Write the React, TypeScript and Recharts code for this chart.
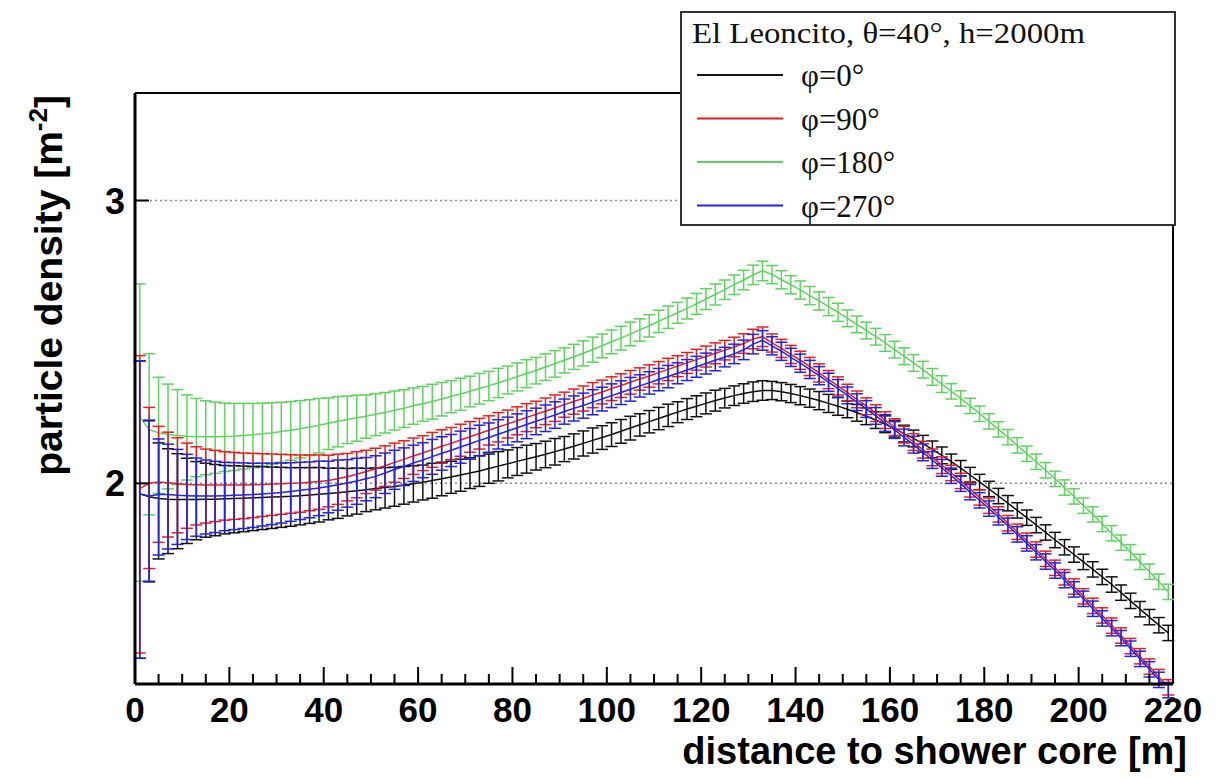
import { LineChart, Line, XAxis, YAxis, ErrorBar, ReferenceLine, Legend, Label } from "recharts";

// distance to shower core [m], bin centres
const distance = [
  1, 3, 5, 7, 9, 11, 13, 15, 17, 19,
  21, 23, 25, 27, 29, 31, 33, 35, 37, 39,
  41, 43, 45, 47, 49, 51, 53, 55, 57, 59,
  61, 63, 65, 67, 69, 71, 73, 75, 77, 79,
  81, 83, 85, 87, 89, 91, 93, 95, 97, 99,
  101, 103, 105, 107, 109, 111, 113, 115, 117, 119,
  121, 123, 125, 127, 129, 131, 133, 135, 137, 139,
  141, 143, 145, 147, 149, 151, 153, 155, 157, 159,
  161, 163, 165, 167, 169, 171, 173, 175, 177, 179,
  181, 183, 185, 187, 189, 191, 193, 195, 197, 199,
  201, 203, 205, 207, 209, 211, 213, 215, 217, 219,
];

const phi0 = [
  1.970, 1.962, 1.957, 1.955, 1.954, 1.954, 1.954, 1.955, 1.955, 1.956,
  1.957, 1.958, 1.959, 1.960, 1.961, 1.962, 1.963, 1.965, 1.967, 1.969,
  1.971, 1.973, 1.976, 1.979, 1.982, 1.985, 1.988, 1.991, 1.995, 1.999,
  2.003, 2.008, 2.013, 2.018, 2.024, 2.030, 2.036, 2.043, 2.050, 2.057,
  2.064, 2.071, 2.078, 2.085, 2.093, 2.101, 2.109, 2.118, 2.127, 2.136,
  2.145, 2.155, 2.165, 2.175, 2.185, 2.195, 2.205, 2.215, 2.225, 2.234,
  2.243, 2.252, 2.260, 2.268, 2.275, 2.281, 2.285, 2.285, 2.281, 2.275,
  2.268, 2.260, 2.252, 2.243, 2.234, 2.224, 2.213, 2.202, 2.190, 2.177,
  2.163, 2.148, 2.133, 2.117, 2.100, 2.082, 2.063, 2.044, 2.024, 2.004,
  1.984, 1.964, 1.944, 1.924, 1.904, 1.884, 1.864, 1.844, 1.825, 1.806,
  1.787, 1.768, 1.749, 1.730, 1.710, 1.690, 1.670, 1.651, 1.632, 1.614,
];

const phi90 = [
  1.985, 2.000, 2.004, 2.002, 1.999, 1.997, 1.996, 1.995, 1.995, 1.995,
  1.995, 1.995, 1.996, 1.997, 1.998, 1.999, 2.000, 2.001, 2.003, 2.005,
  2.008, 2.013, 2.019, 2.026, 2.034, 2.042, 2.051, 2.061, 2.070, 2.080,
  2.089, 2.099, 2.109, 2.118, 2.128, 2.138, 2.148, 2.158, 2.168, 2.178,
  2.188, 2.198, 2.208, 2.218, 2.228, 2.239, 2.249, 2.259, 2.270, 2.280,
  2.291, 2.301, 2.312, 2.323, 2.333, 2.344, 2.355, 2.366, 2.377, 2.388,
  2.399, 2.410, 2.421, 2.432, 2.444, 2.460, 2.468, 2.446, 2.427, 2.406,
  2.386, 2.365, 2.343, 2.321, 2.300, 2.278, 2.256, 2.234, 2.212, 2.190,
  2.168, 2.145, 2.122, 2.099, 2.076, 2.053, 2.030, 2.007, 1.983, 1.960,
  1.937, 1.913, 1.889, 1.866, 1.842, 1.819, 1.795, 1.772, 1.748, 1.725,
  1.701, 1.678, 1.655, 1.631, 1.608, 1.584, 1.561, 1.538, 1.515, 1.493,
];

const phi180 = [
  2.200, 2.160, 2.150, 2.145, 2.142, 2.140, 2.139, 2.138, 2.138, 2.139,
  2.140, 2.142, 2.144, 2.147, 2.150, 2.154, 2.158, 2.163, 2.168, 2.174,
  2.180, 2.186, 2.192, 2.197, 2.202, 2.208, 2.214, 2.221, 2.227, 2.235,
  2.242, 2.249, 2.257, 2.265, 2.273, 2.282, 2.291, 2.300, 2.310, 2.320,
  2.330, 2.341, 2.351, 2.363, 2.374, 2.386, 2.398, 2.410, 2.423, 2.436,
  2.450, 2.463, 2.478, 2.492, 2.507, 2.523, 2.538, 2.554, 2.570, 2.587,
  2.605, 2.622, 2.640, 2.659, 2.677, 2.697, 2.712, 2.698, 2.678, 2.659,
  2.639, 2.618, 2.598, 2.577, 2.556, 2.534, 2.512, 2.490, 2.468, 2.446,
  2.423, 2.400, 2.377, 2.354, 2.330, 2.306, 2.282, 2.259, 2.235, 2.210,
  2.186, 2.161, 2.137, 2.112, 2.087, 2.063, 2.038, 2.013, 1.988, 1.963,
  1.937, 1.913, 1.887, 1.862, 1.837, 1.812, 1.787, 1.762, 1.737, 1.712,
];

const phi270 = [
  1.970, 1.964, 1.968, 1.968, 1.966, 1.965, 1.964, 1.964, 1.964, 1.965,
  1.966, 1.967, 1.968, 1.970, 1.972, 1.974, 1.977, 1.980, 1.983, 1.987,
  1.991, 1.996, 2.001, 2.007, 2.013, 2.020, 2.030, 2.040, 2.049, 2.059,
  2.068, 2.078, 2.088, 2.097, 2.107, 2.117, 2.127, 2.136, 2.146, 2.156,
  2.166, 2.176, 2.186, 2.196, 2.206, 2.217, 2.227, 2.236, 2.247, 2.257,
  2.268, 2.278, 2.289, 2.300, 2.310, 2.321, 2.331, 2.342, 2.353, 2.364,
  2.375, 2.386, 2.397, 2.408, 2.422, 2.442, 2.455, 2.436, 2.417, 2.396,
  2.376, 2.355, 2.334, 2.312, 2.291, 2.269, 2.247, 2.225, 2.203, 2.181,
  2.159, 2.136, 2.114, 2.091, 2.068, 2.045, 2.022, 1.999, 1.975, 1.952,
  1.929, 1.905, 1.882, 1.859, 1.835, 1.812, 1.788, 1.765, 1.741, 1.718,
  1.695, 1.671, 1.648, 1.625, 1.602, 1.578, 1.555, 1.532, 1.509, 1.487,
];

// relative statistical error per bin
const relErr = [
  0.21, 0.115, 0.083, 0.075, 0.068, 0.061, 0.056, 0.053, 0.051, 0.049,
  0.048, 0.047, 0.046, 0.045, 0.044, 0.043, 0.042, 0.041, 0.040, 0.039,
  0.037, 0.036, 0.034, 0.033, 0.031, 0.030, 0.029, 0.028, 0.027, 0.026,
  0.025, 0.025, 0.024, 0.023, 0.023, 0.022, 0.022, 0.021, 0.021, 0.020,
  0.020, 0.020, 0.019, 0.019, 0.019, 0.018, 0.018, 0.018, 0.018, 0.017,
  0.017, 0.017, 0.017, 0.016, 0.016, 0.016, 0.016, 0.015, 0.015, 0.015,
  0.015, 0.015, 0.014, 0.014, 0.014, 0.014, 0.014, 0.013, 0.013, 0.013,
  0.013, 0.013, 0.013, 0.013, 0.013, 0.012, 0.012, 0.012, 0.012, 0.012,
  0.012, 0.012, 0.012, 0.012, 0.012, 0.012, 0.011, 0.011, 0.011, 0.011,
  0.011, 0.011, 0.011, 0.011, 0.011, 0.011, 0.011, 0.011, 0.011, 0.011,
  0.011, 0.011, 0.011, 0.011, 0.011, 0.011, 0.011, 0.011, 0.011, 0.011,
];

const xTicks = [
  0, 5, 10, 15, 20, 25, 30, 35, 40, 45, 50, 55, 60, 65, 70, 75, 80, 85, 90, 95, 100, 105, 110,
  115, 120, 125, 130, 135, 140, 145, 150, 155, 160, 165, 170, 175, 180, 185, 190, 195, 200,
  205, 210, 215, 220,
];
const yTicks = [2, 3];

const series = [
  { key: "phi0", name: "φ=0°", color: "#111111", values: phi0 },
  { key: "phi90", name: "φ=90°", color: "#e8201c", values: phi90 },
  { key: "phi180", name: "φ=180°", color: "#5ed35e", values: phi180 },
  { key: "phi270", name: "φ=270°", color: "#2323e6", values: phi270 },
];
// drawing order in the plot
const drawOrder = ["phi180", "phi0", "phi90", "phi270"];

const data = distance.map((x, i) => {
  const row: Record<string, number> = { x };
  series.forEach((s) => {
    row[s.key] = s.values[i];
    row[s.key + "Err"] = s.values[i] * relErr[i];
  });
  return row;
});

const SANS = "'Liberation Sans', Arial, Helvetica, sans-serif";
const SERIF = "'Liberation Serif', 'Times New Roman', serif";

const XTick = (props: any) => {
  const { x, y, payload } = props;
  const v = payload.value as number;
  const major = v % 20 === 0;
  return (
    <g>
      <line x1={x} x2={x} y1={y} y2={y - (major ? 17 : 10)} stroke="#000" strokeWidth={2} />
      {major && (
        <text x={x} y={y + 38} textAnchor="middle" fontFamily={SANS} fontWeight="bold" fontSize={35} fill="#000">
          {v}
        </text>
      )}
    </g>
  );
};

const YTick = (props: any) => {
  const { x, y, payload } = props;
  return (
    <g>
      <line x1={x} x2={x + 14} y1={y} y2={y} stroke="#000" strokeWidth={2} />
      <text x={x - 10} y={y + 13} textAnchor="end" fontFamily={SANS} fontWeight="bold" fontSize={36} fill="#000">
        {payload.value}
      </text>
    </g>
  );
};

const XTitle = (props: any) => {
  const vb = props.viewBox;
  return (
    <text x={vb.x + vb.width + 14} y={vb.y + 80} textAnchor="end" fontFamily={SANS} fontWeight="bold" fontSize={38} fill="#000">
      distance to shower core [m]
    </text>
  );
};

const YTitle = (props: any) => {
  const vb = props.viewBox;
  const cx = 62;
  const cy = vb.y + 2;
  return (
    <text
      x={cx}
      y={cy}
      transform={`rotate(-90, ${cx}, ${cy})`}
      textAnchor="end"
      fontFamily={SANS}
      fontWeight="bold"
      fontSize={39}
      fill="#000"
    >
      particle density [m
      <tspan dy={-15} fontSize={26}>-2</tspan>
      <tspan dy={15}>]</tspan>
    </text>
  );
};

const LegendBox = () => (
  <svg width={496} height={215} style={{ display: "block" }}>
    <rect x={1} y={1} width={494} height={213} fill="#fff" stroke="#333" strokeWidth={2} />
    <text x={12} y={32} fontFamily={SERIF} fontSize={29} fill="#111" textLength={393} lengthAdjust="spacingAndGlyphs">
      El Leoncito, θ=40°, h=2000m
    </text>
    {series.map((s, i) => {
      const cy = 64 + i * 43.5;
      return (
        <g key={s.key}>
          <line x1={17} x2={103} y1={cy} y2={cy} stroke={s.color} strokeWidth={2} />
          <text x={121} y={cy + 11} fontFamily={SERIF} fontSize={31} fill="#111">
            {s.name}
          </text>
        </g>
      );
    })}
  </svg>
);

export default function App() {
  return (
    <div style={{ position: "absolute", left: 0, top: 0, width: 1220, height: 778, background: "#fff" }}>
      <LineChart width={1220} height={778} data={data} margin={{ top: 93, right: 47, bottom: 0, left: 0 }}>
        <XAxis
          type="number"
          dataKey="x"
          domain={[0, 220]}
          ticks={xTicks}
          interval={0}
          allowDataOverflow
          height={94}
          tickSize={0}
          tickMargin={0}
          tickLine={false}
          axisLine={{ stroke: "#000", strokeWidth: 3 }}
          tick={<XTick />}
        >
          <Label content={<XTitle />} />
        </XAxis>
        <YAxis
          type="number"
          scale="log"
          domain={[1.5, 3.5]}
          ticks={yTicks}
          interval={0}
          allowDataOverflow
          width={135}
          tickSize={0}
          tickMargin={0}
          tickLine={false}
          axisLine={{ stroke: "#000", strokeWidth: 3 }}
          tick={<YTick />}
        >
          <Label content={<YTitle />} />
        </YAxis>
        {yTicks.map((v) => (
          <ReferenceLine key={v} y={v} stroke="#8a8a8a" strokeWidth={1.5} strokeDasharray="2 3" />
        ))}
        <ReferenceLine y={3.5} stroke="#000" strokeWidth={2} />
        <ReferenceLine x={220} stroke="#000" strokeWidth={2} />
        {drawOrder.map((k) => {
          const s = series.find((d) => d.key === k)!;
          return (
            <Line
              key={s.key}
              type="linear"
              dataKey={s.key}
              name={s.name}
              stroke={s.color}
              strokeWidth={1.5}
              dot={false}
              isAnimationActive={false}
            >
              <ErrorBar dataKey={s.key + "Err"} direction="y" width={6} stroke={s.color} strokeWidth={1.5} />
            </Line>
          );
        })}
        <Legend
          layout="horizontal"
          verticalAlign="middle"
          align="center"
          content={<LegendBox />}
          wrapperStyle={{ left: 680, top: 11, width: 496, height: 215 }}
        />
      </LineChart>
    </div>
  );
}
